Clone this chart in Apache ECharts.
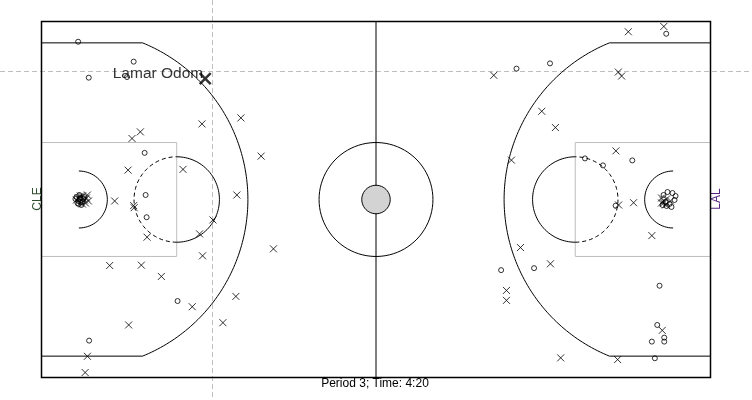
<!DOCTYPE html>
<html><head><meta charset="utf-8">
<script src="https://cdn.jsdelivr.net/npm/echarts@6/dist/echarts.min.js"></script>
<style>html,body{margin:0;padding:0;background:#fff}#c{width:752px;height:400px}</style>
</head><body><div id="c"></div>
<script>
// Court size in feet
const courtLength = 94, courtWidth = 50;
// Made shots (open circles), [x ft, y ft]
const madeShots = [
  [5.15,2.84],[12.95,5.64],[6.64,7.89],[12.02,7.80],[14.49,18.45],[14.63,24.37],[14.77,27.49],
  [19.12,39.26],[6.69,44.82],
  [4.91,24.65],[5.19,25.21],[5.47,24.79],[5.75,25.35],[5.05,25.49],[6.03,24.65],[5.33,24.37],[5.61,25.77],
  [4.77,24.93],[5.33,24.93],[5.89,24.93],[5.19,25.63],[5.47,25.35],
  [87.78,1.72],[66.74,6.62],[71.45,5.88],[83.01,19.51],[76.36,19.23],[78.89,20.21],[80.67,25.87],
  [64.58,34.92],[69.21,34.64],[86.84,37.11],[86.52,42.62],[85.76,44.96],[87.50,44.40],[87.50,44.96],[86.18,47.30],
  [87.40,24.37],[87.96,23.95],[88.66,24.09],[88.95,25.07],[88.24,25.63],[87.68,25.35],[89.09,24.51],[88.52,26.05],
  [87.26,25.77],[87.82,25.91]
];
// Missed shots (crosses)
const missedShots = [
  [22.55,14.38],[28.02,13.54],[13.89,15.50],[12.72,16.43],[12.16,20.87],[19.88,20.77],[30.86,18.91],
  [27.45,24.37],[10.28,25.21],[12.95,25.85],[13.02,26.15],[24.09,27.87],[22.21,29.83],[14.83,30.29],
  [22.63,32.91],[32.59,31.93],[9.58,34.27],[14.03,34.22],[16.84,35.81],[21.18,40.06],[27.31,38.61],
  [25.49,42.30],[12.25,42.62],[6.45,47.02],[6.13,49.30],
  [5.47,24.51],[6.03,25.07],[6.45,24.37],[4.91,25.07],[5.75,25.63],[6.59,25.21],
  [5.19,24.79],[5.75,24.51],[6.31,24.79],[6.17,25.49],
  [82.45,1.44],[87.44,0.70],[63.55,7.56],[81.05,7.10],[81.51,7.66],[70.29,12.61],[72.21,14.89],
  [66.03,19.47],[80.71,18.17],[81.09,25.77],[83.19,25.45],[85.76,30.07],[67.30,31.75],[71.51,34.03],
  [65.33,37.77],[65.33,39.17],[87.22,43.38],[80.95,47.48],[72.95,47.24],
  [87.12,24.79],[87.82,24.93],[88.38,25.21],[87.40,25.49],
  [87.40,25.21],[87.68,25.77],[87.12,25.49]
];
// Highlighted shot
const highlightShot = [[23.0,8.03]];
const highlightName = 'Lamar Odom';
// Crosshair position (ft)
const crosshair = [24.0, 7.0];
const teamLeft = 'CLE', teamRight = 'LAL';
const subtitle = 'Period 3; Time: 4:20';

const crossPath = 'path://M0 0L10 10M10 0L0 10';
const chart = echarts.init(document.getElementById('c'), null, {renderer: 'canvas'});

function arcPts(cx, cy, r, a0, a1, n) {
  const pts = [];
  for (let i = 0; i <= n; i++) {
    const a = a0 + (a1 - a0) * i / n;
    pts.push([cx + r * Math.cos(a), cy + r * Math.sin(a)]);
  }
  return pts;
}

function renderCourt(params, api) {
  const c = p => api.coord(p);
  const poly = (pts, style) => ({type: 'polyline', shape: {points: pts.map(c)}, style: Object.assign({fill: null, stroke: '#000', lineWidth: 1}, style || {})});
  const ch = [];
  const L = courtLength, W = courtWidth, mid = W / 2;
  ch.push(poly([[L/2, 0], [L/2, W]]));
  ch.push({type: 'polygon', shape: {points: arcPts(L/2, mid, 8, 0, 2*Math.PI, 90).map(c)}, style: {fill: null, stroke: '#000', lineWidth: 1}});
  ch.push({type: 'polygon', shape: {points: arcPts(L/2, mid, 2, 0, 2*Math.PI, 48).map(c)}, style: {fill: '#d3d3d3', stroke: '#000', lineWidth: 1}});
  [0, 1].forEach(side => {
    const mx = x => side ? L - x : x;
    const ang = a => side ? Math.PI - a : a;
    ch.push({type: 'polygon', shape: {points: [[mx(0), 17], [mx(19), 17], [mx(19), 33], [mx(0), 33]].map(c)}, style: {fill: null, stroke: '#bebebe', lineWidth: 1}});
    const ftc = mx(19);
    ch.push(poly(arcPts(ftc, mid, 6, ang(-Math.PI/2), ang(Math.PI/2), 60)));
    ch.push(poly(arcPts(ftc, mid, 6, ang(Math.PI/2), ang(3*Math.PI/2), 60), {lineDash: [4, 3]}));
    const bx = mx(5.25);
    ch.push(poly(arcPts(bx, mid, 4, ang(-Math.PI/2), ang(Math.PI/2), 40)));
    const a3 = Math.asin(22 / 23.75);
    const arc = arcPts(bx, mid, 23.75, ang(-a3), ang(a3), 120);
    ch.push(poly([[mx(0), 3]].concat(arc).concat([[mx(0), 47]])));
  });
  ch.push({type: 'polygon', shape: {points: [[0,0],[L,0],[L,W],[0,W]].map(c)}, style: {fill: null, stroke: '#000', lineWidth: 1.5}});
  return {type: 'group', children: ch};
}

const font = '"Liberation Sans", Arial, sans-serif';

chart.setOption({
  animation: false,
  backgroundColor: '#fff',
  grid: {left: 41.5, top: 21.5, width: 669, height: 356},
  xAxis: {type: 'value', min: 0, max: courtLength, show: false},
  yAxis: {type: 'value', min: 0, max: courtWidth, inverse: true, show: false},
  series: [
    {type: 'custom', silent: true, renderItem: renderCourt, data: [[0, 0]], z: 1},
    {type: 'scatter', silent: true, data: madeShots, symbol: 'circle', symbolSize: 5,
      itemStyle: {color: 'rgba(0,0,0,0)', borderColor: '#000', borderWidth: 1}, z: 3},
    {type: 'scatter', silent: true, data: missedShots, symbol: crossPath, symbolSize: 7,
      itemStyle: {color: 'none', borderColor: '#000', borderWidth: 1}, z: 3},
    {type: 'scatter', silent: true, data: highlightShot, symbol: crossPath, symbolSize: 11,
      itemStyle: {color: 'none', borderColor: '#000', borderWidth: 2.5}, z: 4,
      label: {show: true, position: 'left', distance: -6, offset: [0, -4.5], formatter: highlightName,
        fontSize: 15.5, color: '#000', fontFamily: font}}
  ]
});

const p = chart.convertToPixel({gridIndex: 0}, crosshair);
const cx = Math.round(p[0]) + 0.5, cy = Math.round(p[1]) + 0.5;
chart.setOption({
  graphic: [
    {type: 'line', z: 0, silent: true, shape: {x1: cx, y1: 0, x2: cx, y2: 400}, style: {stroke: '#c0c0c0', lineWidth: 1, lineDash: [5, 3]}},
    {type: 'line', z: 0, silent: true, shape: {x1: 0, y1: cy, x2: 752, y2: cy}, style: {stroke: '#c0c0c0', lineWidth: 1, lineDash: [5, 3]}},
    {type: 'text', silent: true, x: 38, y: 199, rotation: Math.PI/2, style: {text: teamLeft, fill: '#2f4f2f', font: '12px ' + font, textAlign: 'center', textVerticalAlign: 'middle'}},
    {type: 'text', silent: true, x: 717, y: 199, rotation: Math.PI/2, style: {text: teamRight, fill: '#552583', font: '12px ' + font, textAlign: 'center', textVerticalAlign: 'middle'}},
    {type: 'text', silent: true, x: 375, y: 384, style: {text: subtitle, fill: '#000', font: '12px ' + font, textAlign: 'center', textVerticalAlign: 'middle'}}
  ]
});
</script>
</body></html>
